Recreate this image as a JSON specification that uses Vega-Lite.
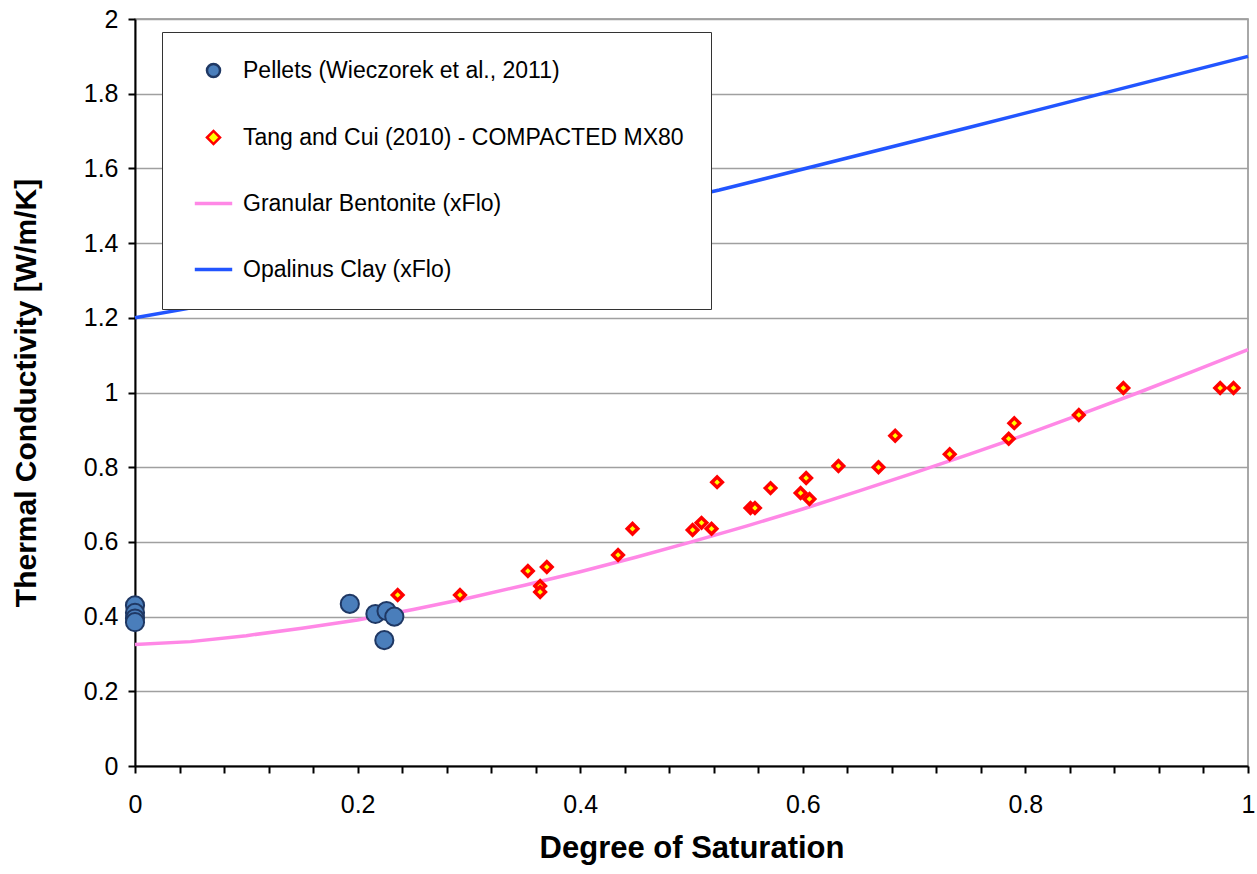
{
  "$schema": "https://vega.github.io/schema/vega-lite/v6.json",
  "autosize": "none",
  "width": 1113,
  "height": 747,
  "padding": {"left": 135, "top": 19, "right": 9, "bottom": 108},
  "background": "white",
  "config": {
    "view": {"stroke": "#8c8c8c", "strokeWidth": 1.5},
    "font": "Liberation Sans",
    "axis": {"labelFont": "Liberation Sans", "titleFont": "Liberation Sans", "labelColor": "black", "titleColor": "black", "domainColor": "black", "tickColor": "black", "domainWidth": 2, "tickWidth": 2}
  },
  "data": {"values": [
    {"series": "Pellets (Wieczorek et al., 2011)", "x": 0, "y": 0.43},
    {"series": "Pellets (Wieczorek et al., 2011)", "x": 0, "y": 0.41},
    {"series": "Pellets (Wieczorek et al., 2011)", "x": 0, "y": 0.395},
    {"series": "Pellets (Wieczorek et al., 2011)", "x": 0, "y": 0.385},
    {"series": "Pellets (Wieczorek et al., 2011)", "x": 0.193, "y": 0.434},
    {"series": "Pellets (Wieczorek et al., 2011)", "x": 0.216, "y": 0.407},
    {"series": "Pellets (Wieczorek et al., 2011)", "x": 0.226, "y": 0.415},
    {"series": "Pellets (Wieczorek et al., 2011)", "x": 0.233, "y": 0.4},
    {"series": "Pellets (Wieczorek et al., 2011)", "x": 0.224, "y": 0.337},
    {"series": "Tang and Cui (2010) - COMPACTED MX80", "x": 0.236, "y": 0.458},
    {"series": "Tang and Cui (2010) - COMPACTED MX80", "x": 0.292, "y": 0.458},
    {"series": "Tang and Cui (2010) - COMPACTED MX80", "x": 0.353, "y": 0.522},
    {"series": "Tang and Cui (2010) - COMPACTED MX80", "x": 0.364, "y": 0.482},
    {"series": "Tang and Cui (2010) - COMPACTED MX80", "x": 0.364, "y": 0.466},
    {"series": "Tang and Cui (2010) - COMPACTED MX80", "x": 0.37, "y": 0.533},
    {"series": "Tang and Cui (2010) - COMPACTED MX80", "x": 0.434, "y": 0.565},
    {"series": "Tang and Cui (2010) - COMPACTED MX80", "x": 0.447, "y": 0.635},
    {"series": "Tang and Cui (2010) - COMPACTED MX80", "x": 0.501, "y": 0.632},
    {"series": "Tang and Cui (2010) - COMPACTED MX80", "x": 0.509, "y": 0.651},
    {"series": "Tang and Cui (2010) - COMPACTED MX80", "x": 0.518, "y": 0.635},
    {"series": "Tang and Cui (2010) - COMPACTED MX80", "x": 0.523, "y": 0.76},
    {"series": "Tang and Cui (2010) - COMPACTED MX80", "x": 0.553, "y": 0.691},
    {"series": "Tang and Cui (2010) - COMPACTED MX80", "x": 0.557, "y": 0.691},
    {"series": "Tang and Cui (2010) - COMPACTED MX80", "x": 0.571, "y": 0.744},
    {"series": "Tang and Cui (2010) - COMPACTED MX80", "x": 0.598, "y": 0.731},
    {"series": "Tang and Cui (2010) - COMPACTED MX80", "x": 0.603, "y": 0.771},
    {"series": "Tang and Cui (2010) - COMPACTED MX80", "x": 0.606, "y": 0.715},
    {"series": "Tang and Cui (2010) - COMPACTED MX80", "x": 0.632, "y": 0.803},
    {"series": "Tang and Cui (2010) - COMPACTED MX80", "x": 0.668, "y": 0.8},
    {"series": "Tang and Cui (2010) - COMPACTED MX80", "x": 0.683, "y": 0.884},
    {"series": "Tang and Cui (2010) - COMPACTED MX80", "x": 0.732, "y": 0.835},
    {"series": "Tang and Cui (2010) - COMPACTED MX80", "x": 0.785, "y": 0.876},
    {"series": "Tang and Cui (2010) - COMPACTED MX80", "x": 0.79, "y": 0.918},
    {"series": "Tang and Cui (2010) - COMPACTED MX80", "x": 0.848, "y": 0.94},
    {"series": "Tang and Cui (2010) - COMPACTED MX80", "x": 0.888, "y": 1.012},
    {"series": "Tang and Cui (2010) - COMPACTED MX80", "x": 0.975, "y": 1.012},
    {"series": "Tang and Cui (2010) - COMPACTED MX80", "x": 0.987, "y": 1.012},
    {"series": "Granular Bentonite (xFlo)", "x": 0, "y": 0.325},
    {"series": "Granular Bentonite (xFlo)", "x": 0.05, "y": 0.333},
    {"series": "Granular Bentonite (xFlo)", "x": 0.1, "y": 0.349},
    {"series": "Granular Bentonite (xFlo)", "x": 0.15, "y": 0.369},
    {"series": "Granular Bentonite (xFlo)", "x": 0.2, "y": 0.391},
    {"series": "Granular Bentonite (xFlo)", "x": 0.25, "y": 0.419},
    {"series": "Granular Bentonite (xFlo)", "x": 0.3, "y": 0.45},
    {"series": "Granular Bentonite (xFlo)", "x": 0.35, "y": 0.484},
    {"series": "Granular Bentonite (xFlo)", "x": 0.4, "y": 0.52},
    {"series": "Granular Bentonite (xFlo)", "x": 0.45, "y": 0.559},
    {"series": "Granular Bentonite (xFlo)", "x": 0.5, "y": 0.6},
    {"series": "Granular Bentonite (xFlo)", "x": 0.55, "y": 0.643},
    {"series": "Granular Bentonite (xFlo)", "x": 0.6, "y": 0.688},
    {"series": "Granular Bentonite (xFlo)", "x": 0.65, "y": 0.736},
    {"series": "Granular Bentonite (xFlo)", "x": 0.7, "y": 0.785},
    {"series": "Granular Bentonite (xFlo)", "x": 0.75, "y": 0.835},
    {"series": "Granular Bentonite (xFlo)", "x": 0.8, "y": 0.887},
    {"series": "Granular Bentonite (xFlo)", "x": 0.85, "y": 0.942},
    {"series": "Granular Bentonite (xFlo)", "x": 0.9, "y": 0.998},
    {"series": "Granular Bentonite (xFlo)", "x": 0.95, "y": 1.056},
    {"series": "Granular Bentonite (xFlo)", "x": 1.0, "y": 1.115},
    {"series": "Opalinus Clay (xFlo)", "x": 0, "y": 1.2},
    {"series": "Opalinus Clay (xFlo)", "x": 0.076, "y": 1.24},
    {"series": "Opalinus Clay (xFlo)", "x": 0.25, "y": 1.36},
    {"series": "Opalinus Clay (xFlo)", "x": 0.525, "y": 1.542},
    {"series": "Opalinus Clay (xFlo)", "x": 0.75, "y": 1.71},
    {"series": "Opalinus Clay (xFlo)", "x": 1.0, "y": 1.9}
  ]},
  "encoding": {
    "x": {"field": "x", "type": "quantitative",
      "scale": {"domain": [0, 1], "nice": false, "zero": false},
      "axis": {"title": "Degree of Saturation", "titleFontSize": 31, "titleFontWeight": "bold", "titlePadding": 16,
        "values": [0,0.04,0.08,0.12,0.16,0.2,0.24,0.28,0.32,0.36,0.4,0.44,0.48,0.52,0.56,0.6,0.64,0.68,0.72,0.76,0.8,0.84,0.88,0.92,0.96,1],
        "labelExpr": "(round(datum.value*100) % 20 == 0) ? toString(round(datum.value*10)/10) : ''",
        "labelOverlap": false, "labelFlush": false, "labelFontSize": 25, "labelPadding": 19, "tickSize": 7, "grid": false}},
    "y": {"field": "y", "type": "quantitative",
      "scale": {"domain": [0, 2], "nice": false},
      "axis": {"title": "Thermal Conductivity [W/m/K]", "titleFontSize": 30, "titleFontWeight": "bold", "titlePadding": 42,
        "values": [0,0.2,0.4,0.6,0.8,1,1.2,1.4,1.6,1.8,2],
        "labelExpr": "toString(round(datum.value*10)/10)",
        "labelFontSize": 25, "labelPadding": 10, "tickSize": 7,
        "grid": true, "gridColor": "#a0a0a0", "gridWidth": 1.5}}
  },
  "layer": [
    {
      "transform": [{"filter": "datum.series == 'Granular Bentonite (xFlo)' || datum.series == 'Opalinus Clay (xFlo)'"}],
      "mark": {"type": "line", "strokeWidth": 3.5},
      "encoding": {
        "stroke": {"field": "series", "type": "nominal",
          "scale": {"domain": ["Pellets (Wieczorek et al., 2011)", "Tang and Cui (2010) - COMPACTED MX80", "Granular Bentonite (xFlo)", "Opalinus Clay (xFlo)"], "range": ["#1f3864", "#ff0000", "#ff88e6", "#2255ff"]},
          "legend": {"title": null, "orient": "none", "legendX": 27, "legendY": 13, "fillColor": "white", "strokeColor": "#333333", "padding": 27, "rowPadding": 42, "symbolOffset": 13, "labelFontSize": 23, "labelFont": "Liberation Sans", "labelColor": "black", "labelOffset": 18, "labelLimit": 600,
            "encode": {"symbols": {"update": {"size": {"signal": "datum.value == 'Granular Bentonite (xFlo)' || datum.value == 'Opalinus Clay (xFlo)' ? 1400 : 170"}, "strokeWidth": {"signal": "datum.value == 'Granular Bentonite (xFlo)' || datum.value == 'Opalinus Clay (xFlo)' ? 3.5 : 2.5"}}}}}
        }
      }
    },
    {
      "transform": [{"filter": "datum.series == 'Pellets (Wieczorek et al., 2011)'"}],
      "mark": {"type": "point", "filled": true, "size": 330, "strokeWidth": 2, "opacity": 1},
      "encoding": {
        "shape": {"field": "series", "type": "nominal", "scale": {"domain": ["Pellets (Wieczorek et al., 2011)", "Tang and Cui (2010) - COMPACTED MX80", "Granular Bentonite (xFlo)", "Opalinus Clay (xFlo)"], "range": ["circle", "diamond", "stroke", "stroke"]}},
        "fill": {"field": "series", "type": "nominal", "scale": {"domain": ["Pellets (Wieczorek et al., 2011)", "Tang and Cui (2010) - COMPACTED MX80", "Granular Bentonite (xFlo)", "Opalinus Clay (xFlo)"], "range": ["#4a7ebb", "#ffff00", "#ff88e6", "#2255ff"]}},
        "stroke": {"field": "series", "type": "nominal"}
      }
    },
    {
      "transform": [{"filter": "datum.series == 'Tang and Cui (2010) - COMPACTED MX80'"}],
      "mark": {"type": "point", "filled": true, "size": 110, "strokeWidth": 3.5, "opacity": 1},
      "encoding": {
        "shape": {"field": "series", "type": "nominal"},
        "fill": {"field": "series", "type": "nominal"},
        "stroke": {"field": "series", "type": "nominal"}
      }
    }
  ]
}
